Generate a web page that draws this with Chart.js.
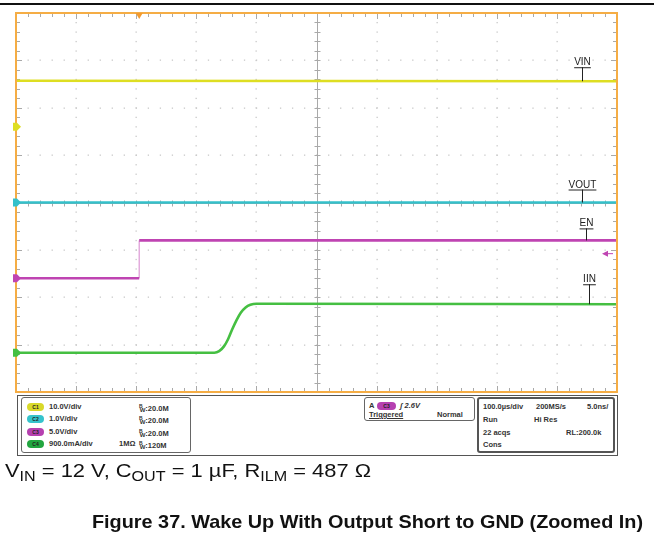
<!DOCTYPE html>
<html>
<head>
<meta charset="utf-8">
<script src="https://cdn.jsdelivr.net/npm/chart.js@4/dist/chart.umd.min.js"></script>
<style>
  html, body { margin: 0; padding: 0; background: #fff; width: 654px; height: 537px; overflow: hidden;
    font-family: "Liberation Sans", Arial, sans-serif; }
  #scope { position: absolute; left: 0; top: 0; }
  .box { position: absolute; border: 1px solid #666; border-radius: 3px; background: #fff; box-sizing: border-box; }
  .t { position: absolute; font: bold 7.5px "Liberation Sans", Arial, sans-serif; color: #333; white-space: nowrap; line-height: 9px; }
  .pill { position: absolute; width: 17px; height: 8px; border-radius: 4px; font: bold 5px "Liberation Sans", Arial, sans-serif;
    color: #222; text-align: center; line-height: 8px; }
  .bw sup { font-size: 5px; vertical-align: 3px; }
  .bw sub { font-size: 6px; vertical-align: -1px; margin-left: -3px; }
  #caption { position: absolute; left: 5px; top: 460px; font: 19px "Liberation Sans", Arial, sans-serif; color: #111;
    white-space: nowrap; transform-origin: 0 0; }
  #caption sub { font-size: 14px; vertical-align: -4px; }
  #title { position: absolute; left: 92px; top: 511px; font: bold 19px "Liberation Sans", Arial, sans-serif; color: #111;
    white-space: nowrap; transform-origin: 0 0; }
</style>
</head>
<body>
<canvas id="scope" width="654" height="537"></canvas>

<div class="box" style="left:17px;top:395px;width:601px;height:61px;border-radius:0;border-color:#555"></div>

<div class="box" style="left:21px;top:397px;width:170px;height:56px">
  <div class="pill" style="left:5px;top:5px;background:#d9d92a">C1</div>
  <div class="t" style="left:27px;top:4px">10.0V/div</div>
  <div class="t bw" style="left:117px;top:4px"><sup>B</sup><sub>W</sub>:20.0M</div>
  <div class="pill" style="left:5px;top:17px;background:#35c3cc">C2</div>
  <div class="t" style="left:27px;top:16px">1.0V/div</div>
  <div class="t bw" style="left:117px;top:16px"><sup>B</sup><sub>W</sub>:20.0M</div>
  <div class="pill" style="left:5px;top:30px;background:#b640b0">C3</div>
  <div class="t" style="left:27px;top:29px">5.0V/div</div>
  <div class="t bw" style="left:117px;top:29px"><sup>B</sup><sub>W</sub>:20.0M</div>
  <div class="pill" style="left:5px;top:42px;background:#22a640">C4</div>
  <div class="t" style="left:27px;top:41px">900.0mA/div</div>
  <div class="t" style="left:97px;top:41px">1MΩ</div>
  <div class="t bw" style="left:117px;top:41px"><sup>B</sup><sub>W</sub>:120M</div>
</div>

<div class="box" style="left:364px;top:397px;width:111px;height:24px">
  <div class="t" style="left:4px;top:3px">A</div>
  <div class="pill" style="left:12px;top:4px;width:19px;background:#b640b0">C3</div>
  <div class="t" style="left:35px;top:3px;font-style:italic">ʃ 2.6V</div>
  <div class="t" style="left:4px;top:12px;text-decoration:underline">Triggered</div>
  <div class="t" style="left:72px;top:12px">Normal</div>
</div>

<div class="box" style="left:477px;top:397px;width:138px;height:56px;border-width:2px;border-color:#555">
  <div class="t" style="left:4px;top:3px">100.0µs/div</div>
  <div class="t" style="left:57px;top:3px">200MS/s</div>
  <div class="t" style="left:108px;top:3px">5.0ns/</div>
  <div class="t" style="left:4px;top:16px">Run</div>
  <div class="t" style="left:55px;top:16px">Hi Res</div>
  <div class="t" style="left:4px;top:29px">22 acqs</div>
  <div class="t" style="left:87px;top:29px">RL:200.0k</div>
  <div class="t" style="left:4px;top:41px">Cons</div>
</div>

<div id="caption">V<sub>IN</sub> = 12 V, C<sub>OUT</sub> = 1 µF, R<sub>ILM</sub> = 487 Ω</div>
<div id="title">Figure 37. Wake Up With Output Short to GND (Zoomed In)</div>

<script>
// Acquisition window: 10 divisions of 100 µs
const timeSpanUs = [0, 1000];

// VIN (C1, volts)
const vinTimeUs = [0, 1000];
const vinVolts  = [9.7, 9.6];

// VOUT (C2, volts) – output held shorted to GND
const voutTimeUs = [0, 1000];
const voutVolts  = [0, 0];

// EN (C3, volts)
const enTimeUs = [0, 205, 205, 1000];
const enVolts  = [0, 0, 4.0, 4.0];

// IIN (C4, amps)
const iinTimeUs = [0, 330, 338, 346, 353, 360, 367, 374, 382, 390, 400, 1000];
const iinAmps   = [0, 0, 0.03, 0.12, 0.26, 0.45, 0.62, 0.76, 0.86, 0.91, 0.93, 0.92];

// Trigger: C3 rising edge
const triggerLevelV = 2.6;
const triggerTimeUs = 205;

// Vertical setup of each channel: units per division and ground offset (divisions above centre)
const channelSetup = {
  yC1: { perDiv: 10,  ground: 1.6 },
  yC2: { perDiv: 1,   ground: 0 },
  yC3: { perDiv: 5,   ground: -1.6 },
  yC4: { perDiv: 0.9, ground: -3.17 }
};

const colors = {
  C1: '#dede22',
  C2: '#34c0ca',
  C3: '#bf44b2',
  C4: '#45bf42',
  frame: '#f5ad45'
};

const pts = (xs, ys) => xs.map((x, i) => ({ x, y: ys[i] }));

function channelAxis(id) {
  const c = channelSetup[id];
  return { type: 'linear', display: false, min: (-4 - c.ground) * c.perDiv, max: (4 - c.ground) * c.perDiv };
}

// Graticule, channel markers and trace labels
const scopeScreen = {
  id: 'scopeScreen',
  beforeDraw(chart) {
    const ctx = chart.ctx;
    ctx.save();
    ctx.fillStyle = '#fff';
    ctx.fillRect(0, 0, chart.width, chart.height);
    ctx.fillStyle = '#111';
    ctx.fillRect(0, 3, chart.width, 2);
    ctx.restore();
  },
  beforeDatasetsDraw(chart) {
    const { ctx, chartArea: a, scales } = chart;
    const xs = scales.x, yd = scales.yDiv;
    const xAt = d => xs.getPixelForValue(d * 100);
    const yAt = d => yd.getPixelForValue(d);
    ctx.save();
    // dotted division lines
    ctx.fillStyle = '#c9c9c9';
    for (let i = 1; i < 10; i++) {
      if (i === 5) continue;
      const x = xAt(i);
      for (let m = 0; m <= 40; m++) ctx.fillRect(Math.round(x) - 0.5, yAt(-4 + m * 0.2) - 0.5, 1.3, 1.3);
    }
    for (let j = -3; j <= 3; j++) {
      if (j === 0) continue;
      const y = yAt(j);
      for (let m = 0; m <= 50; m++) ctx.fillRect(xAt(m * 0.2) - 0.5, Math.round(y) - 0.5, 1.3, 1.3);
    }
    // centre crosshair
    ctx.strokeStyle = '#a9a9a9';
    ctx.lineWidth = 1;
    const cx = Math.round(xAt(5)) + 0.5, cy = Math.round(yAt(0)) + 0.5;
    ctx.beginPath();
    ctx.moveTo(cx, a.top); ctx.lineTo(cx, a.bottom);
    ctx.moveTo(a.left, cy); ctx.lineTo(a.right, cy);
    for (let m = 0; m <= 50; m++) { const x = Math.round(xAt(m * 0.2)) + 0.5; ctx.moveTo(x, cy - 3); ctx.lineTo(x, cy + 3); }
    for (let m = 0; m <= 40; m++) { const y = Math.round(yAt(-4 + m * 0.2)) + 0.5; ctx.moveTo(cx - 3, y); ctx.lineTo(cx + 3, y); }
    // edge ticks
    for (let m = 1; m < 50; m++) {
      const x = Math.round(xAt(m * 0.2)) + 0.5, len = m % 5 === 0 ? 6 : 4;
      ctx.moveTo(x, a.top); ctx.lineTo(x, a.top + len);
      ctx.moveTo(x, a.bottom); ctx.lineTo(x, a.bottom - len);
    }
    for (let m = 1; m < 40; m++) {
      const y = Math.round(yAt(-4 + m * 0.2)) + 0.5, len = m % 5 === 0 ? 6 : 4;
      ctx.moveTo(a.left, y); ctx.lineTo(a.left + len, y);
      ctx.moveTo(a.right, y); ctx.lineTo(a.right - len, y);
    }
    ctx.stroke();
    ctx.restore();
  },
  afterDatasetsDraw(chart) {
    const { ctx, chartArea: a, scales } = chart;
    ctx.save();
    // screen frame
    ctx.strokeStyle = colors.frame;
    ctx.lineWidth = 2;
    ctx.strokeRect(a.left, a.top, a.right - a.left, a.bottom - a.top);

    // ground markers on the left edge
    const marks = [['yC1', colors.C1], ['yC2', colors.C2], ['yC3', colors.C3], ['yC4', colors.C4]];
    marks.forEach(([id, col]) => {
      const y = scales[id].getPixelForValue(0);
      const x = a.left;
      ctx.fillStyle = col;
      ctx.beginPath();
      ctx.moveTo(x - 3, y - 4);
      ctx.lineTo(x + 1, y - 4);
      ctx.lineTo(x + 5, y);
      ctx.lineTo(x + 1, y + 4);
      ctx.lineTo(x - 3, y + 4);
      ctx.closePath();
      ctx.fill();
    });

    // trigger position (top) and level (right)
    const tx = scales.x.getPixelForValue(triggerTimeUs);
    ctx.fillStyle = '#f29a2e';
    ctx.beginPath();
    ctx.moveTo(tx - 3.5, a.top); ctx.lineTo(tx + 3.5, a.top); ctx.lineTo(tx, a.top + 6); ctx.closePath();
    ctx.fill();
    const ty = scales.yC3.getPixelForValue(triggerLevelV);
    ctx.strokeStyle = colors.C3; ctx.fillStyle = colors.C3; ctx.lineWidth = 1;
    ctx.beginPath(); ctx.moveTo(a.right - 12, ty); ctx.lineTo(a.right - 4, ty); ctx.stroke();
    ctx.beginPath(); ctx.moveTo(a.right - 15, ty); ctx.lineTo(a.right - 9, ty - 3); ctx.lineTo(a.right - 9, ty + 3); ctx.closePath(); ctx.fill();

    // trace labels
    const labels = [
      { text: 'VIN',  axis: 'yC1', t: 941, v: vinVolts[vinVolts.length - 1], dy: 14 },
      { text: 'VOUT', axis: 'yC2', t: 941, v: 0, dy: 13 },
      { text: 'EN',   axis: 'yC3', t: 948, v: enVolts[enVolts.length - 1], dy: 12 },
      { text: 'IIN',  axis: 'yC4', t: 953, v: iinAmps[iinAmps.length - 1], dy: 20 }
    ];
    ctx.font = '10px "Liberation Sans", Arial, sans-serif';
    ctx.textAlign = 'center';
    ctx.textBaseline = 'alphabetic';
    ctx.fillStyle = '#222';
    ctx.strokeStyle = '#222';
    labels.forEach(l => {
      const x = Math.round(scales.x.getPixelForValue(l.t)) + 0.5;
      const yTrace = scales[l.axis].getPixelForValue(l.v);
      const base = yTrace - l.dy;
      ctx.fillText(l.text, x, base - 2);
      const w = ctx.measureText(l.text).width;
      ctx.lineWidth = 1;
      ctx.beginPath();
      ctx.moveTo(x - w / 2, base + 0.5); ctx.lineTo(x + w / 2, base + 0.5);
      ctx.moveTo(x, base); ctx.lineTo(x, yTrace);
      ctx.stroke();
    });
    ctx.restore();
  }
};

const trace = (label, data, color, axis, extra) => Object.assign({
  label, data, yAxisID: axis, borderColor: color, borderWidth: 2.6, pointRadius: 0,
  tension: 0, fill: false, borderCapStyle: 'butt'
}, extra || {});

new Chart(document.getElementById('scope'), {
  type: 'line',
  data: {
    datasets: [
      trace('VIN', pts(vinTimeUs, vinVolts), colors.C1, 'yC1'),
      trace('VOUT', pts(voutTimeUs, voutVolts), colors.C2, 'yC2'),
      trace('EN', pts(enTimeUs, enVolts), colors.C3, 'yC3', {
        segment: { borderColor: s => s.p0.parsed.x === s.p1.parsed.x ? 'rgba(191,68,178,0.55)' : undefined,
                   borderWidth: s => s.p0.parsed.x === s.p1.parsed.x ? 1.2 : undefined }
      }),
      trace('IIN', pts(iinTimeUs, iinAmps), colors.C4, 'yC4', { cubicInterpolationMode: 'monotone' })
    ]
  },
  options: {
    responsive: false,
    devicePixelRatio: 1,
    animation: false,
    layout: { padding: { left: 16, top: 13, right: 37, bottom: 145 } },
    plugins: { legend: { display: false }, tooltip: { enabled: false } },
    scales: {
      x: { type: 'linear', display: false, min: timeSpanUs[0], max: timeSpanUs[1] },
      yDiv: { type: 'linear', display: false, min: -4, max: 4 },
      yC1: channelAxis('yC1'),
      yC2: channelAxis('yC2'),
      yC3: channelAxis('yC3'),
      yC4: channelAxis('yC4')
    }
  },
  plugins: [scopeScreen]
});

// Fit caption and title to their printed widths
function fitWidth(id, width) {
  const el = document.getElementById(id);
  const w = el.getBoundingClientRect().width;
  el.style.transform = 'scaleX(' + (width / w) + ')';
}
fitWidth('caption', 366);
fitWidth('title', 551);
</script>
</body>
</html>
